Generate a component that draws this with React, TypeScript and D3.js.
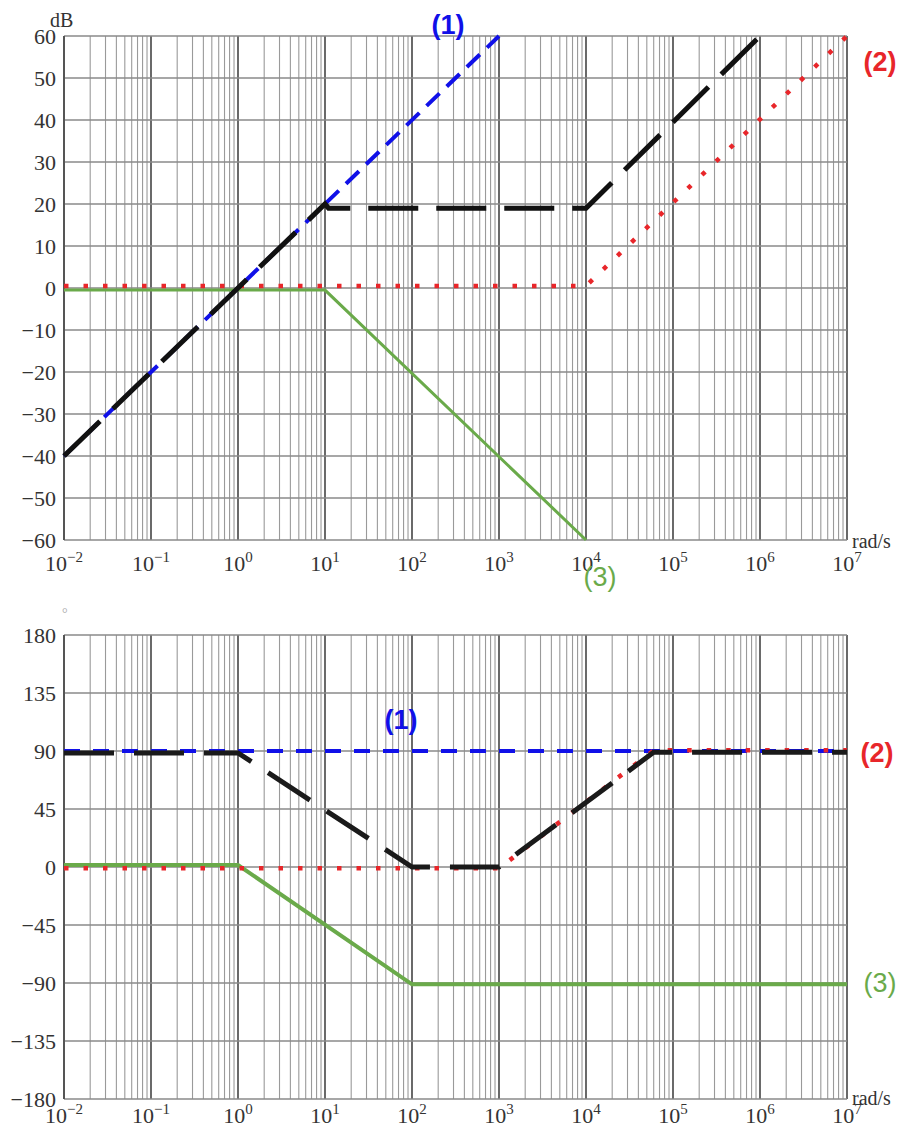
import React, { useEffect, useRef } from 'react';
import * as d3 from 'd3';

// decade exponents used for the x tick labels
const decades = [-2, -1, 0, 1, 2, 3, 4, 5, 6, 7];
const magTicks = [60, 50, 40, 30, 20, 10, 0, -10, -20, -30, -40, -50, -60];
const phaseTicks = [180, 135, 90, 45, 0, -45, -90, -135, -180];

// magnitude asymptotes [omega, dB]
const magBlue = [[1e-2, -40], [1e3, 60]];
const magRed = [[1e-2, 0.5], [1e4, 0.5], [1e7, 60]];
const magBlack = [[1e-2, -40], [1e1, 20], [1.1e1, 19], [1e4, 19], [1e6, 60]];
const magGreen = [[1e-2, -0.5], [1e1, -0.5], [1e4, -60]];

// phase asymptotes [omega, degrees]
const phaseBlue = [[1e-2, 90], [1e7, 90]];
const phaseRed = [[1e-2, -1], [1e3, -1], [6e4, 90.5], [1e7, 90.5]];
const phaseBlack = [[1e-2, 88.5], [1e0, 88.5], [1e2, 0], [1e3, 0], [6e4, 89], [1e7, 89]];
const phaseGreen = [[1e-2, 1.5], [1e0, 1.5], [1e2, -91], [1e7, -91]];

const W = 903;
const H = 1129;
const serif = '"Liberation Serif", "Times New Roman", "DejaVu Serif", serif';
const sans = '"Liberation Sans", Arial, sans-serif';

const BLUE = '#1010e8';
const RED = '#e8262a';
const GREEN = '#6aaa4a';

const BodePlots = () => {
  const svgRef = useRef(null);

  useEffect(() => {
    const svg = d3.select(svgRef.current);
    svg.selectAll('*').remove();

    const left = 64;
    const right = 847;

    const drawPanel = (opts) => {
      const { top, bottom, yDomain, yTicks, series, unitLabel, unitX, unitY, xLabelY, radY } = opts;
      const x = d3.scaleLog().domain([1e-2, 1e7]).range([left, right]);
      const y = d3.scaleLinear().domain(yDomain).range([bottom, top]);
      const g = svg.append('g');

      // vertical grid (minor + decades)
      x.ticks().forEach((t) => {
        const isDecade = Math.abs(Math.log10(t) - Math.round(Math.log10(t))) < 1e-9;
        g.append('line')
          .attr('x1', x(t)).attr('x2', x(t))
          .attr('y1', top).attr('y2', bottom)
          .attr('stroke', isDecade ? '#2a2a2a' : '#9a9a9a')
          .attr('stroke-width', isDecade ? 1.4 : 1.1);
      });

      // horizontal grid
      yTicks.forEach((t) => {
        g.append('line')
          .attr('x1', left).attr('x2', right)
          .attr('y1', y(t)).attr('y2', y(t))
          .attr('stroke', '#8a8a8a')
          .attr('stroke-width', 1.4);
      });

      // left axis
      g.append('line')
        .attr('x1', left).attr('x2', left)
        .attr('y1', top).attr('y2', bottom)
        .attr('stroke', '#555')
        .attr('stroke-width', 2);

      // y tick labels
      yTicks.forEach((t) => {
        g.append('text')
          .attr('x', 56)
          .attr('y', y(t))
          .attr('dy', '0.35em')
          .attr('text-anchor', 'end')
          .attr('font-family', serif)
          .attr('font-size', 22)
          .attr('fill', '#333')
          .text(t < 0 ? `\u2212${-t}` : `${t}`);
      });

      // x tick labels: 10^n
      decades.forEach((d) => {
        const txt = g.append('text')
          .attr('x', x(Math.pow(10, d)))
          .attr('y', xLabelY)
          .attr('text-anchor', 'middle')
          .attr('font-family', serif)
          .attr('font-size', 22)
          .attr('fill', '#333');
        txt.append('tspan').text('10');
        txt.append('tspan')
          .attr('font-size', 15)
          .attr('dy', -9)
          .text(d < 0 ? `\u2212${-d}` : `${d}`);
      });

      g.append('text')
        .attr('x', 852).attr('y', radY)
        .attr('font-family', serif).attr('font-size', 20).attr('fill', '#333')
        .text('rad/s');

      g.append('text')
        .attr('x', unitX).attr('y', unitY)
        .attr('font-family', serif)
        .attr('font-size', unitLabel === 'dB' ? 20 : 14)
        .attr('fill', unitLabel === 'dB' ? '#333' : '#aaa')
        .text(unitLabel);

      const line = d3.line().x((d) => x(d[0])).y((d) => y(d[1]));

      series.forEach((s) => {
        g.append('path')
          .attr('d', line(s.data))
          .attr('fill', 'none')
          .attr('stroke', s.color)
          .attr('stroke-width', s.width)
          .attr('stroke-dasharray', s.dash || null)
          .attr('stroke-linecap', 'butt');
      });

      return { x, y, g };
    };

    // magnitude panel
    drawPanel({
      top: 36,
      bottom: 540,
      yDomain: [-60, 60],
      yTicks: magTicks,
      unitLabel: 'dB',
      unitX: 50,
      unitY: 27,
      xLabelY: 571,
      radY: 548,
      series: [
        { data: magGreen, color: GREEN, width: 3 },
        { data: magBlue, color: BLUE, width: 4, dash: '18 10' },
        { data: magRed, color: RED, width: 4.5, dash: '4.5 15' },
        { data: magBlack, color: '#111', width: 5, dash: '50 18' },
      ],
    });

    // phase panel
    drawPanel({
      top: 635,
      bottom: 1099,
      yDomain: [-180, 180],
      yTicks: phaseTicks,
      unitLabel: '\u00b0',
      unitX: 62,
      unitY: 618,
      xLabelY: 1123,
      radY: 1105,
      series: [
        { data: phaseGreen, color: GREEN, width: 4 },
        { data: phaseBlue, color: BLUE, width: 4, dash: '16 13' },
        { data: phaseRed, color: RED, width: 4.5, dash: '4.5 15' },
        { data: phaseBlack, color: '#1a1a1a', width: 5, dash: '50 20' },
      ],
    });

    // curve annotations
    const labels = [
      { t: '(1)', x: 448, y: 34, c: BLUE, w: 'bold' },
      { t: '(2)', x: 880, y: 71, c: RED, w: 'bold' },
      { t: '(3)', x: 600, y: 586, c: GREEN, w: 'normal' },
      { t: '(1)', x: 401, y: 729, c: BLUE, w: 'bold' },
      { t: '(2)', x: 877, y: 762, c: RED, w: 'bold' },
      { t: '(3)', x: 880, y: 992, c: GREEN, w: 'normal' },
    ];
    labels.forEach((l) => {
      svg.append('text')
        .attr('x', l.x).attr('y', l.y)
        .attr('text-anchor', 'middle')
        .attr('font-family', sans)
        .attr('font-size', 27)
        .attr('font-weight', l.w)
        .attr('fill', l.c)
        .text(l.t);
    });
  }, []);

  return (
    <svg
      ref={svgRef}
      width={W}
      height={H}
      style={{ position: 'absolute', left: 0, top: 0, background: '#fff' }}
    ></svg>
  );
};

export default function App() {
  return <BodePlots />;
}
